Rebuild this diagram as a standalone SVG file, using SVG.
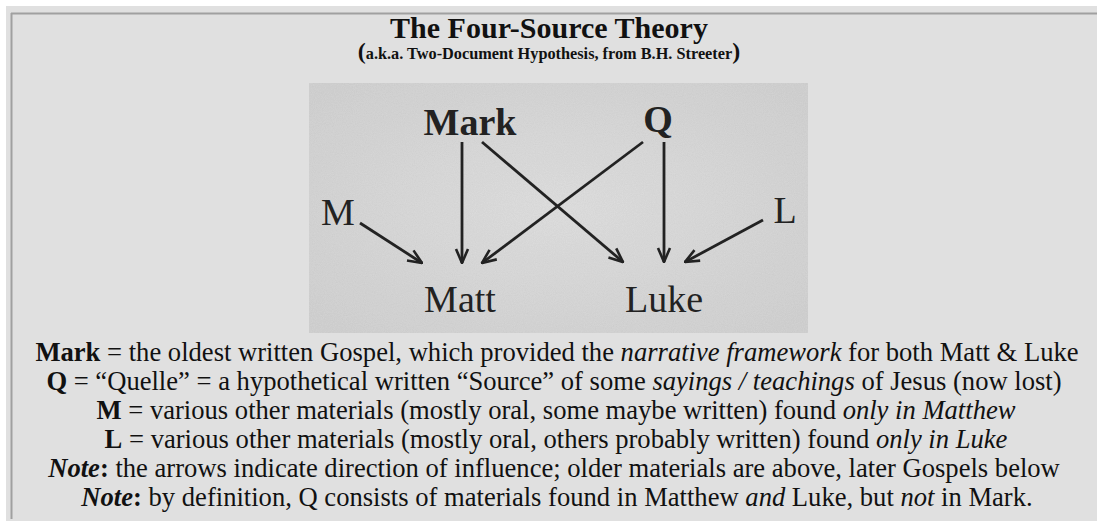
<svg xmlns="http://www.w3.org/2000/svg" width="1097" height="521" viewBox="0 0 1097 521">
<defs>
<style>
.serif{font-family:"Liberation Serif","Times New Roman",serif;fill:#111}
.title{font-size:30px;font-weight:bold}
.sub{font-size:16.3px;font-weight:bold}
.par{font-size:24px}
.body{font-size:26.6px}
.b{font-weight:bold}
.i{font-style:italic}
.ph{font-family:"Liberation Serif","Times New Roman",serif;font-size:38px;fill:#222}
.conn line{stroke:#222;stroke-width:2.8;marker-end:url(#ah)}
</style>
<marker id="ah" viewBox="0 0 16 16" refX="15" refY="8" markerWidth="16" markerHeight="16" markerUnits="userSpaceOnUse" orient="auto">
<path d="M1,2 L15,8 L1,14" fill="none" stroke="#222" stroke-width="2.6"/>
</marker>
<filter id="noise" x="0" y="0" width="100%" height="100%">
<feTurbulence type="fractalNoise" baseFrequency="0.9" numOctaves="2" seed="3" result="n"/>
<feColorMatrix in="n" type="matrix" values="0 0 0 0 0  0 0 0 0 0  0 0 0 0 0  0 0 0 0.1 0" result="a"/>
<feComposite in="a" in2="SourceGraphic" operator="in" result="m"/>
<feMerge><feMergeNode in="SourceGraphic"/><feMergeNode in="m"/></feMerge>
</filter>
<radialGradient id="pg" cx="50%" cy="50%" r="65%">
<stop offset="0" stop-color="#e0e0e0"/>
<stop offset="1" stop-color="#d3d3d3"/>
</radialGradient>
</defs>
<rect x="0" y="0" width="1097" height="521" fill="#ffffff"/>
<rect x="6" y="6" width="1091" height="515" fill="#e0e0e0"/>
<line x1="11" y1="13.5" x2="1097" y2="13.5" stroke="#a0a0a0" stroke-width="2"/>
<line x1="11.5" y1="13" x2="11.5" y2="519" stroke="#a0a0a0" stroke-width="2"/>
<g id="heading">
<text class="serif title" x="549" y="38" text-anchor="middle">The Four-Source Theory</text>
<text class="serif sub" x="549" y="59" text-anchor="middle"><tspan class="par">(</tspan>a.k.a. Two-Document Hypothesis, from B.H. Streeter<tspan class="par">)</tspan></text>
</g>
<g id="photo">
<rect x="309" y="83" width="499" height="250" fill="url(#pg)" filter="url(#noise)"/>
</g>
<g id="node-mark"><text class="ph b" x="470" y="135" text-anchor="middle">Mark</text></g>
<g id="node-q"><text class="ph b" x="658" y="132" text-anchor="middle">Q</text></g>
<g id="node-m"><text class="ph" x="338" y="225" text-anchor="middle">M</text></g>
<g id="node-l"><text class="ph" x="785" y="223" text-anchor="middle">L</text></g>
<g id="node-matt"><text class="ph" x="460" y="312" text-anchor="middle">Matt</text></g>
<g id="node-luke"><text class="ph" x="664" y="312" text-anchor="middle">Luke</text></g>
<g id="connectors" class="conn">
<line x1="462" y1="142" x2="462" y2="263"/>
<line x1="482" y1="142" x2="623" y2="262"/>
<line x1="643" y1="142" x2="482" y2="263"/>
<line x1="664" y1="142" x2="664" y2="262"/>
<line x1="360" y1="223" x2="422" y2="263"/>
<line x1="763" y1="220" x2="685" y2="262"/>
</g>
<g id="legend" class="serif body">
<text x="557" y="361" text-anchor="middle"><tspan class="b">Mark</tspan> = the oldest written Gospel, which provided the <tspan class="i">narrative framework</tspan> for both Matt &amp; Luke</text>
<text x="554" y="390" text-anchor="middle"><tspan class="b">Q</tspan> = “Quelle” = a hypothetical written “Source” of some <tspan class="i">sayings / teachings</tspan> of Jesus (now lost)</text>
<text x="556" y="419" text-anchor="middle"><tspan class="b">M</tspan> = various other materials (mostly oral, some maybe written) found <tspan class="i">only in Matthew</tspan></text>
<text x="556" y="448" text-anchor="middle"><tspan class="b">L</tspan> = various other materials (mostly oral, others probably written) found <tspan class="i">only in Luke</tspan></text>
<text x="554" y="477" text-anchor="middle"><tspan class="b i">Note</tspan><tspan class="b">:</tspan> the arrows indicate direction of influence; older materials are above, later Gospels below</text>
<text x="557" y="506" text-anchor="middle"><tspan class="b i">Note</tspan><tspan class="b">:</tspan> by definition, Q consists of materials found in Matthew <tspan class="i">and</tspan> Luke, but <tspan class="i">not</tspan> in Mark.</text>
</g>
</svg>
